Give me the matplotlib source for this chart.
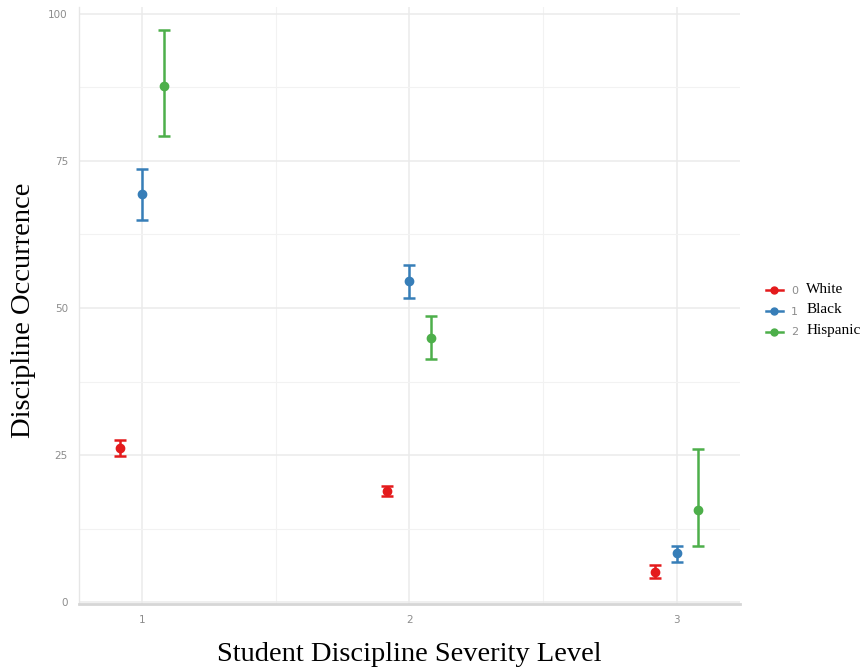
import matplotlib
matplotlib.use("Agg")
import matplotlib.pyplot as plt
from matplotlib.lines import Line2D
import numpy as np

levels = [1, 2, 3]
groups = ["White", "Black", "Hispanic"]
codes = ["0", "1", "2"]
colors = ["#E41A1C", "#377EB8", "#4DAF4A"]

# mean, lower, upper for each group across severity levels
means = {
    "White": [26.2, 18.9, 5.2],
    "Black": [69.3, 54.6, 8.3],
    "Hispanic": [87.8, 44.9, 15.7],
}
lower = {
    "White": [24.8, 18.1, 4.2],
    "Black": [64.9, 51.7, 6.8],
    "Hispanic": [79.2, 41.4, 9.6],
}
upper = {
    "White": [27.5, 19.8, 6.4],
    "Black": [73.6, 57.3, 9.6],
    "Hispanic": [97.3, 48.6, 26.0],
}
dodge = [-0.082, 0.0, 0.082]

fig = plt.figure(figsize=(8.65, 6.69), dpi=100)
ax = fig.add_axes([0.0913, 0.097, 0.7637, 0.893])

for g, c, d in zip(groups, colors, dodge):
    x = np.array(levels) + d
    m = np.array(means[g])
    lo = m - np.array(lower[g])
    hi = np.array(upper[g]) - m
    ax.errorbar(x, m, yerr=[lo, hi], fmt="o", color=c, ms=6,
                elinewidth=1.8, capsize=4.5, capthick=1.8, zorder=3)

ax.set_xlim(0.764, 3.236)
ax.set_ylim(-0.3, 101.2)
ax.set_xticks(levels)
ax.set_xticks([1.5, 2.5], minor=True)
ax.set_yticks([0, 25, 50, 75, 100])
ax.set_yticks([12.5, 37.5, 62.5, 87.5], minor=True)
ax.grid(True, which="major", color="#EBEBEB", lw=1.1, zorder=0)
ax.grid(True, which="minor", color="#F2F2F2", lw=0.8, zorder=0)
ax.tick_params(which="both", length=0, labelsize=7.5, labelcolor="#8C8C8C", pad=8)
for s in ["top", "right"]:
    ax.spines[s].set_visible(False)
ax.spines["left"].set_color("#E6E6E6")
ax.spines["left"].set_linewidth(1.0)
ax.spines["bottom"].set_color("#D6D6D6")
ax.spines["bottom"].set_linewidth(2.0)

ax.set_xlabel("Student Discipline Severity Level", family="Liberation Serif",
              fontsize=20.5, labelpad=12)
fig.text(24 / 865, 1 - 310 / 669, "Discipline Occurrence", family="Liberation Serif",
         fontsize=20.5, rotation=90, ha="center", va="center")

handles = [Line2D([0], [0], color=c, lw=1.8, marker="o", ms=5) for c in colors]
leg = fig.legend(handles, codes, loc="upper left", bbox_to_anchor=(0.8735, 0.587),
                 frameon=False, fontsize=8, labelcolor="#8C8C8C",
                 handlelength=1.6, handletextpad=0.7, labelspacing=0.95)
fig.canvas.draw()
renderer = fig.canvas.get_renderer()
inv = fig.transFigure.inverted()
for t, g in zip(leg.get_texts(), groups):
    bb = t.get_window_extent(renderer)
    x0, y0 = inv.transform((bb.x1 + 8, (bb.y0 + bb.y1) / 2 + 2))
    fig.text(x0, y0, g, family="Liberation Serif", fontsize=11, va="center")

fig.savefig("out.png", dpi=100)
